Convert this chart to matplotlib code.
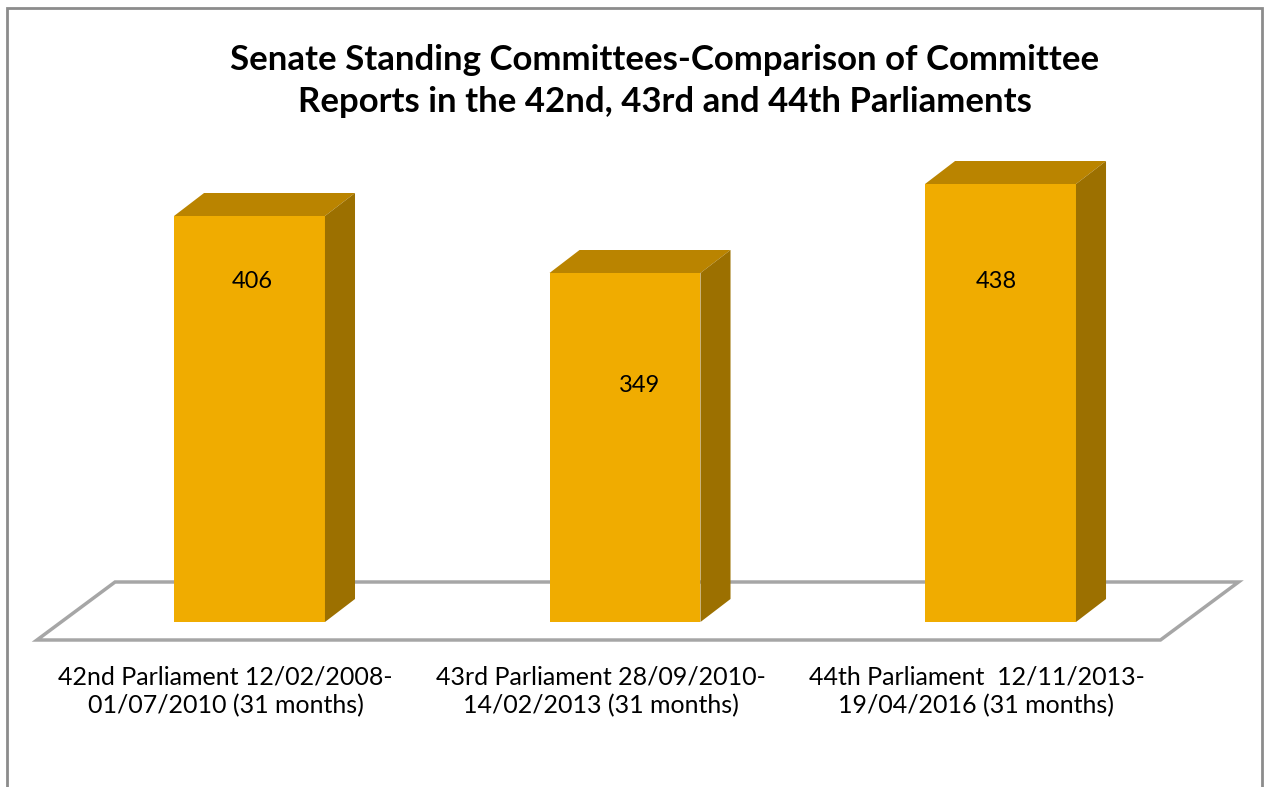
import matplotlib.pyplot as plt
from matplotlib.patches import Polygon, Rectangle

# data
categories = ['42nd Parliament 12/02/2008-\n01/07/2010 (31 months)',
              '43rd Parliament 28/09/2010-\n14/02/2013 (31 months)',
              '44th Parliament  12/11/2013-\n19/04/2016 (31 months)']
reports = [406, 349, 438]
# where the value labels sit inside the bars (offset from centre, height)
label_dx = [0.008, 0.04, -0.011]
label_y = [341, 237, 341]

title = 'Senate Standing Committees-Comparison of Committee\nReports in the 42nd, 43rd and 44th Parliaments'

# colours
front_col = '#F0AC00'
top_col = '#BA8400'
side_col = '#9C7000'
floor_edge = '#A6A6A6'

plt.rcParams['font.family'] = ['Lato', 'DejaVu Sans']

fig = plt.figure(figsize=(12.64, 7.87), dpi=100)
ax = fig.add_axes([0, 0, 1, 1])
ax.set_xlim(-0.6644, 2.7017)
ax.set_ylim(-165, 622)
ax.axis('off')

# 3d look
w = 0.402          # bar width (category units)
dx, dy = 0.08, 23  # bar depth
n = len(reports)

# floor
fx0, fy0 = -0.064, -18
fdx, fdy = 0.208, 58
left, right = -0.5 - 0.002, n - 1 + 0.5 + 0.06
floor = Polygon([(left + fx0, fy0), (right + fx0 - 0.07, fy0),
                 (right + fx0 - 0.07 + fdx, fy0 + fdy), (left + fx0 + fdx, fy0 + fdy)],
                closed=True, facecolor='white', edgecolor=floor_edge, lw=2.5, zorder=1)
ax.add_patch(floor)

for i, v in enumerate(reports):
    x0, x1 = i - w / 2, i + w / 2
    ax.add_patch(Rectangle((x0, 0), w, v, facecolor=front_col, edgecolor='none', zorder=3))
    ax.add_patch(Polygon([(x0, v), (x1, v), (x1 + dx, v + dy), (x0 + dx, v + dy)],
                         closed=True, facecolor=top_col, edgecolor='none', zorder=3))
    ax.add_patch(Polygon([(x1, 0), (x1 + dx, dy), (x1 + dx, v + dy), (x1, v)],
                         closed=True, facecolor=side_col, edgecolor='none', zorder=3))
    ax.text(i + label_dx[i], label_y[i], str(v), ha='center', va='center', fontsize=17,
            color='black', zorder=4)
    ax.text(i + fx0, -69.5, categories[i], ha='center', va='center', fontsize=18,
            linespacing=1.3, color='black')

fig.text(665 / 1264, 1 - 81 / 787, title, ha='center', va='center', fontsize=25,
         fontweight='bold', linespacing=1.42)

# outer border
fig.patches.append(Rectangle((7 / 1264, -0.05), 1255 / 1264, 1.05 - 8 / 787,
                             transform=fig.transFigure, fill=False,
                             edgecolor='#8C8C8C', lw=2, figure=fig))

fig.savefig('out.png', dpi=100)
